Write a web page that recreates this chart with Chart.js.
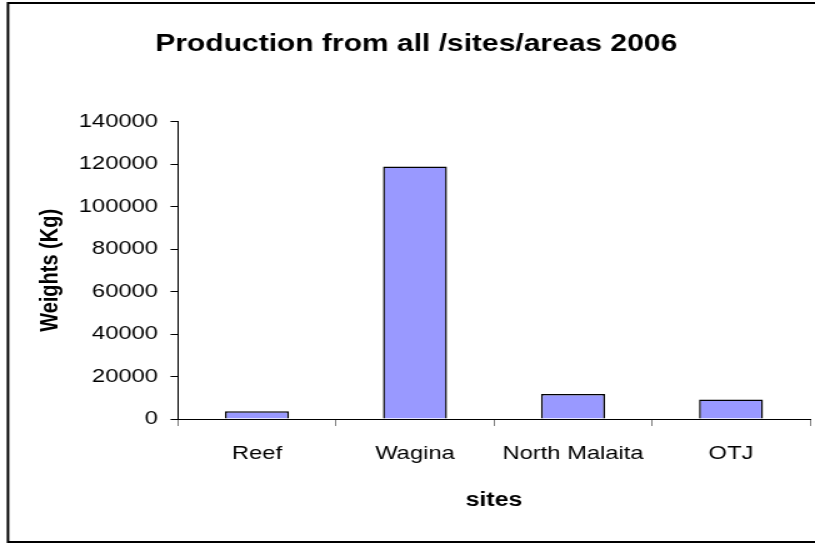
<!DOCTYPE html>
<html>
<head>
<meta charset="utf-8">
<script src="https://cdn.jsdelivr.net/npm/chart.js@4/dist/chart.umd.min.js"></script>
<style>
  html, body { margin: 0; padding: 0; background: #fff; overflow: hidden; }
  /* the original picture is stretched sideways, so the chart is drawn narrower and widened */
  #wrap { width: 652px; height: 544px; transform: scaleX(1.25); transform-origin: 0 0; }
</style>
</head>
<body>
<div id="wrap"><canvas id="chart" width="652" height="544"></canvas></div>
<script>
const sites = ['Reef', 'Wagina', 'North Malaita', 'OTJ'];
const weights = [3600, 119000, 11800, 9200];
const yTicks = [0, 20000, 40000, 60000, 80000, 100000, 120000, 140000];

const FONT = '"Liberation Sans", Arial, sans-serif';

// outer frame around the whole chart
const framePlugin = {
    id: 'frame',
    afterDraw(chart) {
        const ctx = chart.ctx;
        ctx.save();
        ctx.strokeStyle = '#000';
        ctx.lineWidth = 2;
        ctx.strokeRect(6.4, 3, 648, 539);
        ctx.restore();
    }
};

new Chart(document.getElementById('chart'), {
    type: 'bar',
    data: {
        labels: sites,
        datasets: [{
            data: weights,
            backgroundColor: '#9999ff',
            borderColor: '#000',
            borderWidth: 1.5,
            barPercentage: 0.81,
            categoryPercentage: 0.5
        }]
    },
    options: {
        responsive: false,
        animation: false,
        layout: { padding: { left: 18, right: 4, top: 0, bottom: 0 } },
        plugins: {
            legend: { display: false },
            tooltip: { enabled: false },
            title: {
                display: true,
                text: 'Production from all /sites/areas 2006',
                color: '#000',
                font: { family: FONT, size: 24, weight: 'bold' },
                padding: { top: 30, bottom: 63 }
            }
        },
        scales: {
            x: {
                offset: true,
                afterFit: (scale) => { scale.height = 125; },
                grid: {
                    offset: true,
                    drawOnChartArea: false,
                    drawTicks: true,
                    tickLength: 7,
                    color: '#808080'
                },
                border: { display: true, color: '#000', width: 1 },
                ticks: {
                    color: '#000',
                    padding: 16,
                    maxRotation: 0,
                    font: { family: FONT, size: 19 }
                },
                title: {
                    display: true,
                    text: 'sites',
                    color: '#000',
                    font: { family: FONT, size: 20, weight: 'bold' },
                    padding: { top: 0, bottom: 32 }
                }
            },
            y: {
                min: 0,
                max: 140000,
                afterFit: (scale) => { scale.width = 124.4; },
                afterBuildTicks: (scale) => { scale.ticks = yTicks.map(v => ({ value: v })); },
                grid: {
                    drawOnChartArea: false,
                    drawTicks: true,
                    tickLength: 6,
                    color: '#000'
                },
                border: { display: true, color: '#000', width: 1 },
                ticks: {
                    color: '#000',
                    padding: 10,
                    font: { family: FONT, size: 19 },
                    callback: (v) => String(v)
                },
                title: {
                    display: true,
                    text: 'Weights (Kg)',
                    color: '#000',
                    font: { family: FONT, size: 20, weight: 'bold' },
                    padding: { top: 10, bottom: 0 }
                }
            }
        }
    },
    plugins: [framePlugin]
});
</script>
</body>
</html>
